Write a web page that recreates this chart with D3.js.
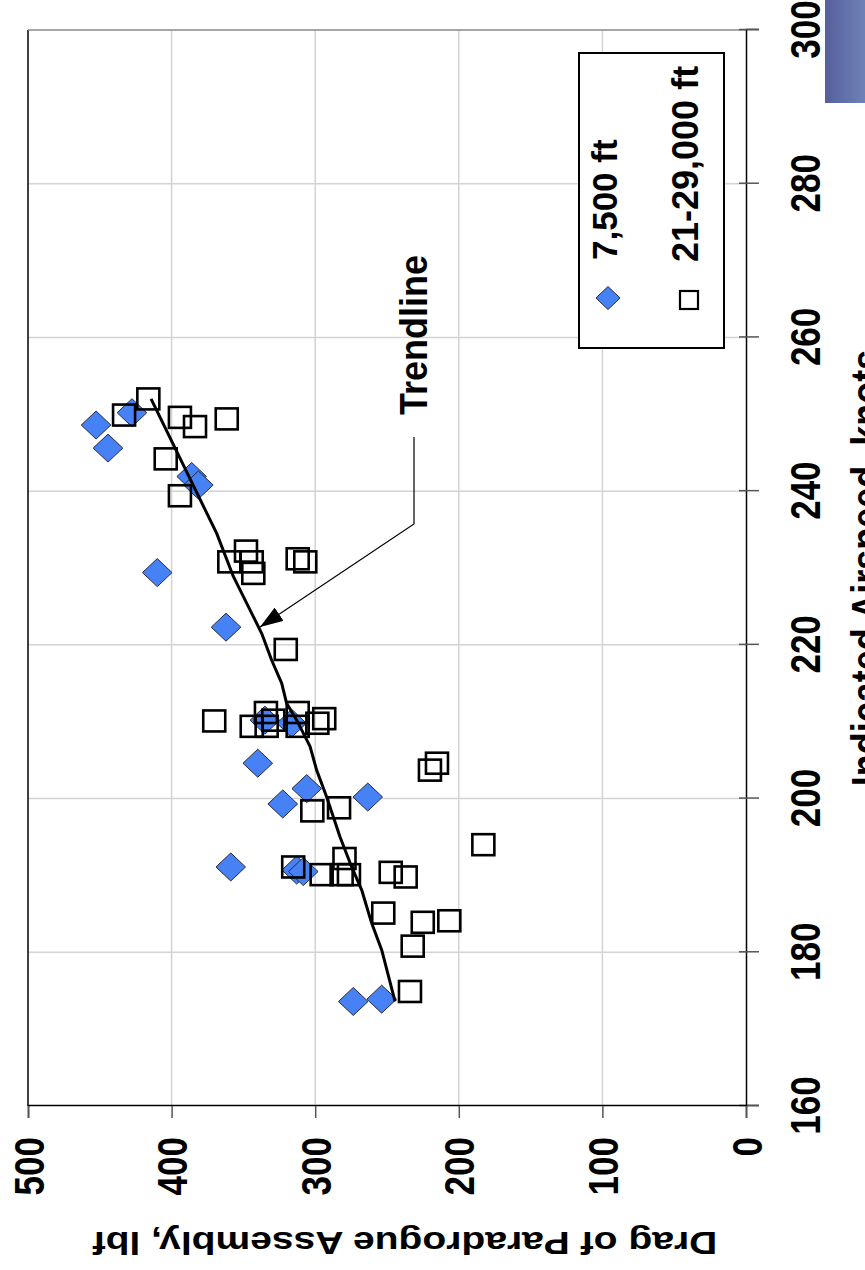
<!DOCTYPE html>
<html>
<head>
<meta charset="utf-8">
<script src="https://cdn.jsdelivr.net/npm/d3@7"></script>
<style>
  body { margin: 0; background: #fff; }
  svg { display: block; }
  text { font-family: "Liberation Sans", Arial, sans-serif; font-weight: bold; fill: #000; }
</style>
</head>
<body>
<svg id="chart" width="865" height="1270"></svg>
<script>
// Axis ticks
const airspeedTicks = [160, 180, 200, 220, 240, 260, 280, 300];
const dragTicks = [0, 100, 200, 300, 400, 500];

// Series names
const seriesNames = ["7,500 ft", "21-29,000 ft"];

// 7,500 ft test points: indicated airspeed (knots) and drag (lbf)
const lowAirspeed = [248.6, 245.6, 250.2, 241.9, 240.8, 229.4, 222.3, 210.2, 209.8, 204.6,
                     201.3, 199.3, 200.2, 191.1, 190.7, 190.5, 173.6, 173.9];
const lowDrag     = [452.6, 444.3, 427.6, 386.0, 381.4, 410.0, 362.1, 335.0, 316.4, 340.0,
                     305.9, 322.6, 263.4, 358.8, 312.9, 308.3, 273.5, 253.7];

// 21-29,000 ft test points
const highAirspeed = [252.0, 249.9, 249.6, 248.4, 249.4, 244.2, 239.4, 230.8, 232.2, 229.3,
                      230.8, 231.2, 230.8, 219.4, 210.1, 211.2, 209.4, 209.4, 210.2, 211.2,
                      209.4, 210.4, 209.8, 198.8, 198.4, 191.1, 190.1, 192.2, 190.1, 190.1,
                      190.4, 189.8, 194.0, 185.1, 183.9, 184.1, 180.8, 174.9, 203.7, 204.6];
const highDrag     = [416.2, 433.1, 394.2, 383.7, 361.6, 404.1, 394.2, 359.8, 348.2, 343.1,
                      344.2, 312.2, 306.9, 320.5, 370.3, 334.3, 344.2, 333.8, 329.2, 312.2,
                      312.2, 293.7, 298.5, 283.4, 302.0, 315.3, 295.5, 279.6, 281.6, 276.5,
                      247.4, 237.0, 182.9, 252.6, 225.1, 206.6, 232.1, 234.0, 220.1, 215.2];

// Trendline through both data sets
const trendAirspeed = [173.6, 180.3, 183.8, 188.1, 191.1, 195.0, 200.2, 203.7, 206.8, 210.2,
                       212.4, 215.0, 218.0, 221.5, 228.9, 234.5, 252.0];
const trendDrag     = [244.4, 253.7, 260.7, 267.6, 274.6, 282.7, 292.0, 299.0, 303.6, 312.9,
                       319.9, 323.3, 330.3, 337.3, 357.0, 368.6, 414.3];

const lowPts = lowAirspeed.map((a, i) => ({ a, d: lowDrag[i] }));
const highPts = highAirspeed.map((a, i) => ({ a, d: highDrag[i] }));
const trendPts = trendAirspeed.map((a, i) => ({ a, d: trendDrag[i] }));

const svg = d3.select("#chart");
const W = 1076, H = 718;          // plot size in the chart's own (unrotated) frame

// corner badge
const defs = svg.append("defs");
const grad = defs.append("linearGradient").attr("id", "badge").attr("x1", 0).attr("x2", 1).attr("y1", 0).attr("y2", 0);
grad.append("stop").attr("offset", 0).attr("stop-color", "#56609c");
grad.append("stop").attr("offset", 1).attr("stop-color", "#6d82b6");
svg.append("rect").attr("x", 825).attr("y", 0).attr("width", 40).attr("height", 103).attr("fill", "url(#badge)");

defs.append("marker").attr("id", "arrow")
  .attr("viewBox", "0 0 23 16").attr("refX", 23).attr("refY", 8)
  .attr("markerWidth", 23).attr("markerHeight", 16)
  .attr("markerUnits", "userSpaceOnUse").attr("orient", "auto")
  .append("path").attr("d", "M0,0 L23,8 L0,16 Z").attr("fill", "#000");

// The whole chart is laid out landscape and turned a quarter turn
const g = svg.append("g").attr("transform", "translate(28,1106) rotate(-90)");

const x = d3.scaleLinear().domain([160, 300]).range([0, W]);
const y = d3.scaleLinear().domain([0, 500]).range([H, 0]);

// gridlines
g.append("g").selectAll("line").data(airspeedTicks.filter(t => t > 160 && t < 300)).join("line")
  .attr("x1", d => x(d)).attr("x2", d => x(d)).attr("y1", 0).attr("y2", H)
  .attr("stroke", "#d3d3d3").attr("stroke-width", 1.5);
g.append("g").selectAll("line").data(dragTicks.filter(t => t > 0 && t < 500)).join("line")
  .attr("y1", d => y(d)).attr("y2", d => y(d)).attr("x1", 0).attr("x2", W)
  .attr("stroke", "#d3d3d3").attr("stroke-width", 1.5);

// plot frame
g.append("line").attr("x1", 0).attr("x2", W).attr("y1", 0).attr("y2", 0).attr("stroke", "#000").attr("stroke-width", 1.5);
g.append("line").attr("x1", W).attr("x2", W).attr("y1", 0).attr("y2", H).attr("stroke", "#888").attr("stroke-width", 1.5);

// airspeed axis
const xAxis = g.append("g").attr("transform", `translate(0,${H})`)
  .call(d3.axisBottom(x).tickValues(airspeedTicks).tickSize(13).tickFormat(d3.format("d")));
xAxis.select(".domain").attr("stroke", "#000").attr("stroke-width", 1.5);
xAxis.selectAll(".tick line").attr("y1", -7).attr("stroke", "#555").attr("stroke-width", 1.5);
xAxis.selectAll(".tick text")
  .attr("y", 0).attr("dy", null)
  .attr("transform", "translate(0,74) scale(1,1.2)")
  .style("font-size", "35px").attr("font-family", null);

// drag axis
const yAxis = g.append("g")
  .call(d3.axisLeft(y).tickValues(dragTicks).tickSize(12).tickFormat(d3.format("d")));
yAxis.select(".domain").attr("stroke", "#000").attr("stroke-width", 1.5);
yAxis.selectAll(".tick line").attr("stroke", "#555").attr("stroke-width", 1.5);
yAxis.selectAll(".tick text")
  .attr("x", 0).attr("dy", null)
  .attr("transform", "translate(-31,15) scale(1,1.2)")
  .style("font-size", "35px").attr("font-family", null);

// axis titles
g.append("text")
  .attr("transform", `translate(${W / 2},853) scale(1,1.2)`)
  .attr("text-anchor", "middle").style("font-size", "36px")
  .text("Indicated Airspeed, knots");
g.append("text")
  .attr("transform", "translate(-126,377) rotate(-90) scale(1.22,1)")
  .attr("text-anchor", "middle").style("font-size", "32px")
  .text("Drag of Paradrogue Assembly, lbf");

// markers
const diamond = (cx, cy, ru, rv) => `M${cx - ru},${cy} L${cx},${cy - rv} L${cx + ru},${cy} L${cx},${cy + rv} Z`;

g.append("g").selectAll("path").data(lowPts).join("path")
  .attr("d", p => diamond(x(p.a), y(p.d), 14, 14.8))
  .attr("fill", "#4682f5").attr("stroke", "#2a2a3a").attr("stroke-width", 1);

g.append("g").selectAll("rect").data(highPts).join("rect")
  .attr("x", p => x(p.a) - 10.5).attr("y", p => y(p.d) - 11)
  .attr("width", 21).attr("height", 22)
  .attr("fill", "none").attr("stroke", "#000").attr("stroke-width", 2.6);

// trendline
g.append("path").datum(trendPts)
  .attr("d", d3.line().x(p => x(p.a)).y(p => y(p.d)))
  .attr("fill", "none").attr("stroke", "#000").attr("stroke-width", 3).attr("stroke-linejoin", "round");

// trendline callout
g.append("text")
  .attr("transform", "translate(691,399) scale(1,1.08)")
  .style("font-size", "36px").text("Trendline");
g.append("path")
  .attr("d", "M669,386 L582,386 L479,232")
  .attr("fill", "none").attr("stroke", "#000").attr("stroke-width", 1.2)
  .attr("marker-end", "url(#arrow)");

// legend
const lg = g.append("g");
lg.append("rect").attr("x", 758).attr("y", 551).attr("width", 295).attr("height", 145)
  .attr("fill", "#fff").attr("stroke", "#000").attr("stroke-width", 2);
lg.append("path").attr("d", diamond(808, 580, 11.5, 12))
  .attr("fill", "#4682f5").attr("stroke", "#2a2a3a").attr("stroke-width", 1);
lg.append("text").attr("x", 846).attr("y", 589).style("font-size", "35px").text(seriesNames[0]);
lg.append("rect").attr("x", 797).attr("y", 652).attr("width", 18).attr("height", 18)
  .attr("fill", "none").attr("stroke", "#000").attr("stroke-width", 2.2);
lg.append("text").attr("x", 844).attr("y", 670).style("font-size", "36px").text(seriesNames[1]);
</script>
</body>
</html>
